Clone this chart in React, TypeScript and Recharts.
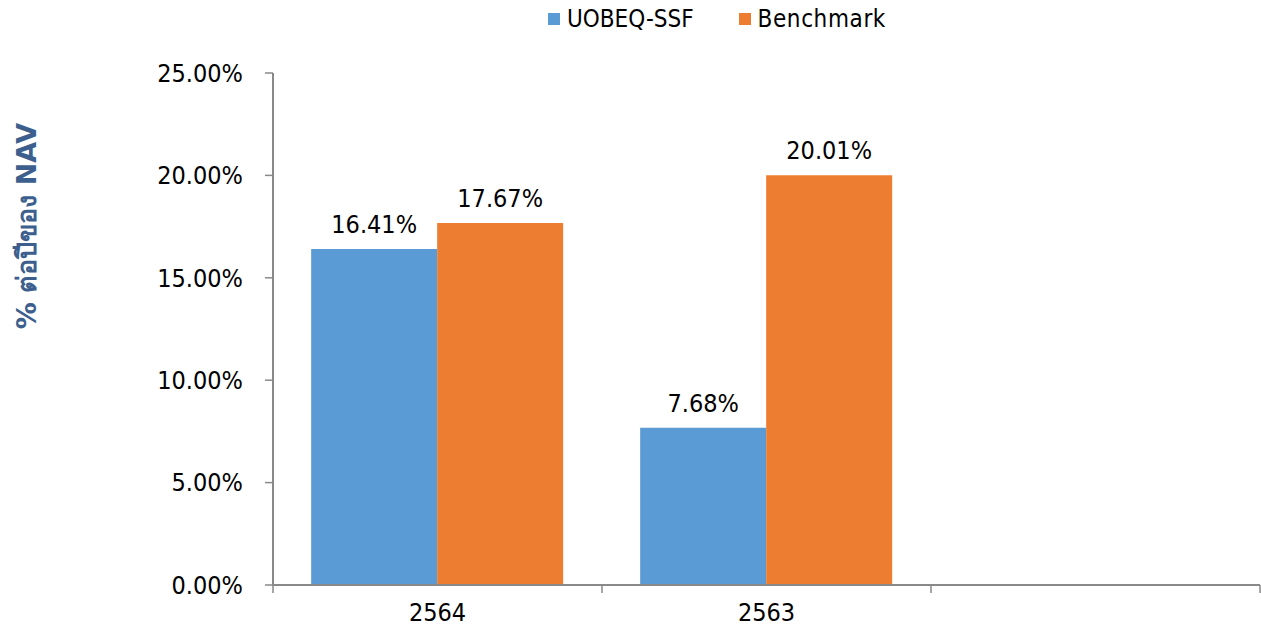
import React from "react";
import { BarChart, Bar, XAxis, YAxis, LabelList } from "recharts";

const categories = ["2564", "2563", ""];
const fundValues = [16.41, 7.68, null];
const benchmarkValues = [17.67, 20.01, null];
const yTicks = [0, 5, 10, 15, 20, 25];
const seriesNames = ["UOBEQ-SSF", "Benchmark"];
const yAxisTitle = "% ต่อปีของ NAV";

const data = categories.map((c, i) => ({
  name: c,
  fund: fundValues[i],
  bench: benchmarkValues[i],
}));

const FONT = "'DejaVu Sans Condensed', 'DejaVu Sans', sans-serif";
const BLUE = "#5B9BD5";
const ORANGE = "#ED7D31";
const AXIS = "#898989";

const fmt = (v: any) => (v == null ? "" : `${Number(v).toFixed(2)}%`);

const CategoryTick = (props: any) => {
  const { x, y, payload, index, visibleTicksCount } = props;
  const half = payload?.offset ?? 0;
  const axisY = y - 10;
  const isLast = index === (visibleTicksCount ?? categories.length) - 1;
  return (
    <g>
      <line x1={x - half} x2={x - half} y1={axisY} y2={axisY + 8} stroke={AXIS} strokeWidth={1.5} />
      {isLast && <line x1={x + half} x2={x + half} y1={axisY} y2={axisY + 8} stroke={AXIS} strokeWidth={1.5} />}
      <text x={x} y={y + 26} textAnchor="middle" fill="#000" fontSize={25} fontFamily={FONT}>
        {payload.value}
      </text>
    </g>
  );
};

export default function App() {
  return (
    <div style={{ position: "absolute", left: 0, top: 0, width: 1261, height: 635, background: "#fff" }}>
      <div style={{ position: "absolute", left: 548, top: 5, display: "flex", alignItems: "center", fontFamily: FONT, fontSize: 24, color: "#000" }}>
        <span style={{ display: "inline-block", width: 12, height: 12, background: BLUE, marginRight: 7 }} />
        <span style={{ marginRight: 45 }}>{seriesNames[0]}</span>
        <span style={{ display: "inline-block", width: 12, height: 12, background: ORANGE, marginRight: 7 }} />
        <span style={{ letterSpacing: 0.6 }}>{seriesNames[1]}</span>
      </div>
      <div
        style={{
          position: "absolute",
          left: 26,
          top: 226,
          transform: "translate(-50%, -50%) rotate(-90deg)",
          whiteSpace: "nowrap",
          fontFamily: "'DejaVu Sans', 'Noto Sans', sans-serif",
          fontWeight: "bold",
          fontSize: 27,
          color: "#3D5F8E",
        }}
      >
        {yAxisTitle}
      </div>
      <BarChart
        width={1261}
        height={635}
        data={data}
        margin={{ top: 73, right: 1, bottom: 20, left: 0 }}
        barCategoryGap="11.6%"
        barGap={0}
        style={{ position: "absolute", left: 0, top: 0 }}
      >
        <XAxis
          dataKey="name"
          height={30}
          axisLine={{ stroke: AXIS, strokeWidth: 2 }}
          tickLine={false}
          tickSize={8}
          interval={0}
          tick={<CategoryTick />}
        />
        <YAxis
          width={273}
          domain={[0, 25]}
          ticks={yTicks}
          interval={0}
          tickFormatter={(v: number) => `${v.toFixed(2)}%`}
          axisLine={{ stroke: AXIS, strokeWidth: 2 }}
          tickLine={{ stroke: AXIS, strokeWidth: 1.5 }}
          tickSize={8}
          tick={{ fill: "#000", fontSize: 25, fontFamily: FONT, dx: -20 }}
        />
        <Bar dataKey="fund" fill={BLUE} isAnimationActive={false}>
          <LabelList dataKey="fund" position="top" offset={16} formatter={fmt} style={{ fill: "#000", fontSize: 25, fontFamily: FONT }} />
        </Bar>
        <Bar dataKey="bench" fill={ORANGE} isAnimationActive={false}>
          <LabelList dataKey="bench" position="top" offset={16} formatter={fmt} style={{ fill: "#000", fontSize: 25, fontFamily: FONT }} />
        </Bar>
      </BarChart>
    </div>
  );
}
